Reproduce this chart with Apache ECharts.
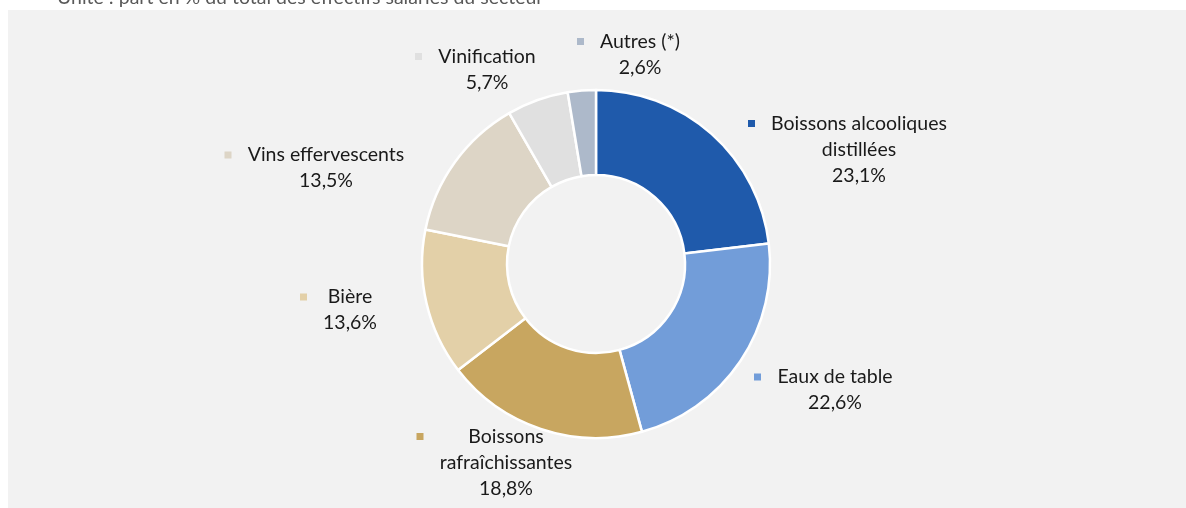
<!DOCTYPE html>
<html>
<head>
<meta charset="utf-8">
<script src="https://cdn.jsdelivr.net/npm/echarts@6/dist/echarts.min.js"></script>
<style>
  html, body { margin: 0; padding: 0; background: #fff; }
  #chart { width: 1186px; height: 508px; }
</style>
</head>
<body>
<div id="chart"></div>
<script>
// données du graphique
const categories = [
  "Boissons alcooliques\ndistillées",
  "Eaux de table",
  "Boissons\nrafraîchissantes",
  "Bière",
  "Vins effervescents",
  "Vinification",
  "Autres (*)"
];
const shares = [23.1, 22.6, 18.8, 13.6, 13.5, 5.7, 2.6];
const colors = ["#1f5aab", "#729dd9", "#c8a660", "#e3d0a8", "#ddd5c6", "#e0e0e0", "#adb9ca"];

// centre du texte de chaque étiquette (x, y)
const labelPos = [
  [859, 149.5],
  [835, 390],
  [506, 462.5],
  [350, 310],
  [326, 168],
  [487, 69.5],
  [640, 54.5]
];

const FONT_SIZE = 19.5;
const MARK = 7, GAP = 15;

const ctx = document.createElement("canvas").getContext("2d");
ctx.font = FONT_SIZE + "px Lato";
const fmt = (v) => v.toFixed(1).replace(".", ",") + "%";

const data = categories.map((name, i) => {
  const lines = name.split("\n").concat([fmt(shares[i])]);
  const w = Math.ceil(Math.max(...lines.map((l) => ctx.measureText(l).width))) + 2;
  const text = lines
    .map((l, k) => (k === 0 ? "{m| }{g| }{t|" + l + "}" : "{s| }{t|" + l + "}"))
    .join("\n");
  return {
    name: name,
    value: shares[i],
    itemStyle: { color: colors[i] },
    label: {
      formatter: text,
      rich: {
        m: { width: MARK, height: MARK, backgroundColor: colors[i], lineHeight: 26 },
        g: { width: GAP, lineHeight: 26 },
        s: { width: MARK + GAP, lineHeight: 26 },
        t: { width: w, align: "center", lineHeight: 26, fontSize: FONT_SIZE, fontFamily: "Lato", color: "#1a1a1a" },
      },
    },
  };
});

const chart = echarts.init(document.getElementById("chart"));
const option = {
  backgroundColor: "#ffffff",
  animation: false,
  graphic: [
    {
      type: "rect",
      shape: { x: 8, y: 10, width: 1178, height: 498 },
      style: { fill: "#f2f2f2" },
      z: -10,
      silent: true,
    },
    {
      type: "text",
      left: 57,
      top: -12,
      style: {
        text: "Unité : part en % du total des effectifs salariés du secteur",
        font: FONT_SIZE + "px Lato",
        fill: "#595959",
      },
      z: -5,
    },
  ],
  series: [
    {
      type: "pie",
      center: [596, 264],
      radius: [89, 174],
      startAngle: 90,
      clockwise: true,
      avoidLabelOverlap: false,
      itemStyle: { borderColor: "#ffffff", borderWidth: 2.5 },
      label: { show: true, position: "outside" },
      labelLine: { show: false },
      labelLayout: (params) => {
        const p = labelPos[params.dataIndex];
        return { x: p[0] - (MARK + GAP) / 2, y: p[1], align: "center", verticalAlign: "middle" };
      },
      emphasis: { disabled: true },
      data: data,
    },
  ],
};
chart.setOption(option);
</script>
</body>
</html>
